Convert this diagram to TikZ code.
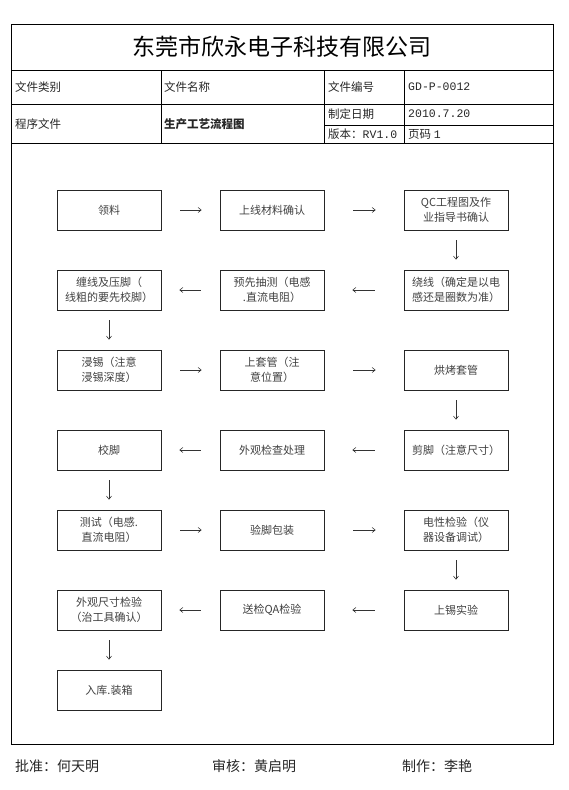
\documentclass[tikz,border=0pt]{standalone}
\usepackage{fontspec}
\setmainfont{Noto Sans CJK SC}
\newfontfamily\monof{Liberation Mono}
\usetikzlibrary{arrows.meta}
\begin{document}
\begin{tikzpicture}[x=1pt,y=1pt,
  tbl/.style={line width=0.8pt,draw=black},
  cell/.style={anchor=west,inner sep=0pt,font=\fontsize{11.5}{13}\selectfont,text=black!85},
  stepbox/.style={draw=black!85,line width=0.8pt,minimum width=104pt,minimum height=40pt,inner sep=1pt,align=center,font=\fontsize{11}{15}\selectfont,text=black!75},
  flow/.style={draw=black!80,line width=0.6pt,-{Straight Barb[length=3pt,width=5pt]}},
  hflow/.style={flow,shorten <=19pt,shorten >=18pt},
  wflow/.style={flow,shorten <=29pt,shorten >=28pt},
  vflow/.style={flow,shorten <=10pt,shorten >=10pt},
  foot/.style={anchor=west,inner sep=0pt,font=\fontsize{14}{16}\selectfont,text=black!85}]
\useasboundingbox (0,0) rectangle (568,-790);
% frame and table
\draw[tbl] (11,-24) rectangle (553,-744);
\draw[tbl] (11,-70) -- (553,-70);
\draw[tbl] (11,-104) -- (553,-104);
\draw[tbl] (324,-125) -- (553,-125);
\draw[tbl] (11,-143) -- (553,-143);
\draw[tbl] (161,-70) -- (161,-143);
\draw[tbl] (324,-70) -- (324,-143);
\draw[tbl] (404,-70) -- (404,-143);
\node[inner sep=0pt,font=\fontsize{23}{25}\selectfont] (title) at (282,-47) {东莞市欣永电子科技有限公司};
\node[cell] (c1) at (15,-87) {文件类别};
\node[cell] (c2) at (164,-87) {文件名称};
\node[cell] (c3) at (328,-87) {文件编号};
\node[cell] (c4) at (408,-87) {\monof GD-P-0012};
\node[cell] (c5) at (15,-124) {程序文件};
\node[cell,font=\fontsize{11.5}{13}\selectfont\bfseries] (c6) at (164,-124) {生产工艺流程图};
\node[cell] (c7) at (328,-114) {制定日期};
\node[cell] (c8) at (408,-114) {\monof 2010.7.20};
\node[cell] (c9) at (328,-134) {版本：{\monof RV1.0}};
\node[cell] (c10) at (408,-134) {页码 {\monof 1}};
% flow boxes
\node[stepbox] (a1) at (109,-210) {领料};
\node[stepbox] (a2) at (272,-210) {上线材料确认};
\node[stepbox] (a3) at (456,-210) {QC工程图及作\\业指导书确认};
\node[stepbox] (b3) at (456,-290) {绕线（确定是以电\\感还是圈数为准）};
\node[stepbox] (b2) at (272,-290) {预先抽测（电感\\.直流电阻）};
\node[stepbox] (b1) at (109,-290) {缠线及压脚（\\线粗的要先校脚）};
\node[stepbox] (d1) at (109,-370) {浸锡（注意\\浸锡深度）};
\node[stepbox] (d2) at (272,-370) {上套管（注\\意位置）};
\node[stepbox] (d3) at (456,-370) {烘烤套管};
\node[stepbox] (e3) at (456,-450) {剪脚（注意尺寸）};
\node[stepbox] (e2) at (272,-450) {外观检查处理};
\node[stepbox] (e1) at (109,-450) {校脚};
\node[stepbox] (f1) at (109,-530) {测试（电感.\\直流电阻）};
\node[stepbox] (f2) at (272,-530) {验脚包装};
\node[stepbox] (f3) at (456,-530) {电性检验（仪\\器设备调试）};
\node[stepbox] (g3) at (456,-610) {上锡实验};
\node[stepbox] (g2) at (272,-610) {送检QA检验};
\node[stepbox] (g1) at (109,-610) {外观尺寸检验\\（治工具确认）};
\node[stepbox] (h1) at (109,-690) {入库.装箱};
% connectors
\draw[hflow] (a1) -- (a2);
\draw[wflow] (a2) -- (a3);
\draw[vflow] (a3) -- (b3);
\draw[wflow] (b3) -- (b2);
\draw[hflow] (b2) -- (b1);
\draw[vflow] (b1) -- (d1);
\draw[hflow] (d1) -- (d2);
\draw[wflow] (d2) -- (d3);
\draw[vflow] (d3) -- (e3);
\draw[wflow] (e3) -- (e2);
\draw[hflow] (e2) -- (e1);
\draw[vflow] (e1) -- (f1);
\draw[hflow] (f1) -- (f2);
\draw[wflow] (f2) -- (f3);
\draw[vflow] (f3) -- (g3);
\draw[wflow] (g3) -- (g2);
\draw[hflow] (g2) -- (g1);
\draw[vflow] (g1) -- (h1);
% footer
\node[foot] (s1) at (15,-766) {批准：何天明};
\node[foot] (s2) at (212,-766) {审核：黄启明};
\node[foot] (s3) at (402,-766) {制作：李艳};
\end{tikzpicture}
\end{document}
